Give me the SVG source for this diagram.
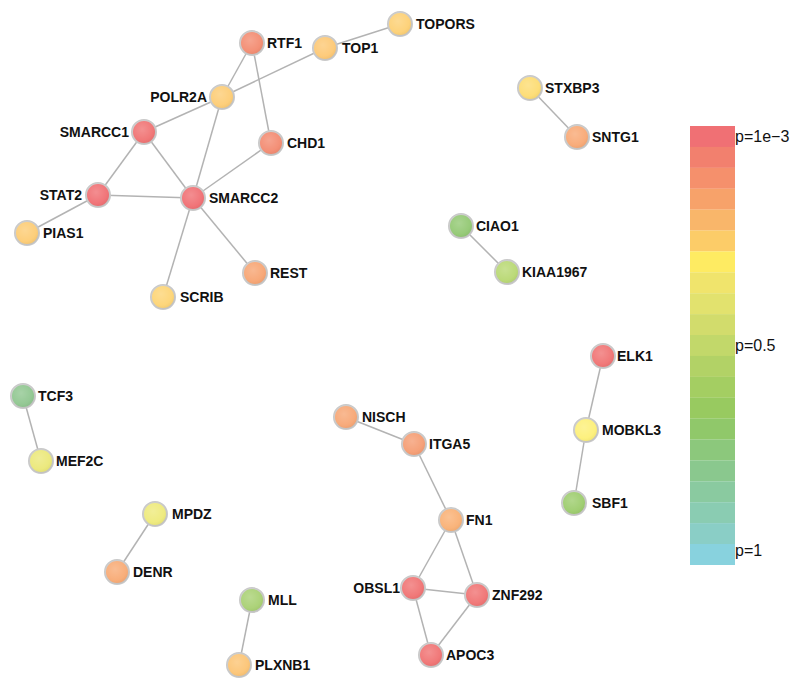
<svg xmlns="http://www.w3.org/2000/svg" width="800" height="690" viewBox="0 0 800 690">
<style>
.n{stroke:#c9c9c9;stroke-width:2}
.h{fill:url(#shine);stroke:none}
.t{font-family:"Liberation Sans",Arial,sans-serif;font-weight:bold;font-size:14px;fill:#111}
.e{stroke:#b3b3b3;stroke-width:1.5;fill:none}
.lg{font-family:"Liberation Sans",Arial,sans-serif;font-size:16px;fill:#111}
</style>
<defs>
<radialGradient id="shine" cx="0.42" cy="0.38" r="0.65">
<stop offset="0" stop-color="#fff" stop-opacity="0.22"/>
<stop offset="0.7" stop-color="#fff" stop-opacity="0.05"/>
<stop offset="1" stop-color="#000" stop-opacity="0.05"/>
</radialGradient>
</defs>
<rect width="800" height="690" fill="#fff"/>
<g id="connectors">
<line class="e" x1="252" y1="43" x2="222" y2="97"/>
<line class="e" x1="252" y1="43" x2="271" y2="143"/>
<line class="e" x1="325" y1="48" x2="222" y2="97"/>
<line class="e" x1="325" y1="48" x2="400" y2="24"/>
<line class="e" x1="222" y1="97" x2="144" y2="132"/>
<line class="e" x1="222" y1="97" x2="193" y2="198"/>
<line class="e" x1="144" y1="132" x2="98" y2="195"/>
<line class="e" x1="144" y1="132" x2="193" y2="198"/>
<line class="e" x1="98" y1="195" x2="193" y2="198"/>
<line class="e" x1="98" y1="195" x2="27" y2="233"/>
<line class="e" x1="271" y1="143" x2="193" y2="198"/>
<line class="e" x1="193" y1="198" x2="255" y2="273"/>
<line class="e" x1="193" y1="198" x2="163" y2="297"/>
<line class="e" x1="530" y1="88" x2="577" y2="137"/>
<line class="e" x1="461" y1="226" x2="507" y2="272"/>
<line class="e" x1="23" y1="396" x2="41" y2="461"/>
<line class="e" x1="155" y1="514" x2="117" y2="572"/>
<line class="e" x1="252" y1="600" x2="239" y2="665"/>
<line class="e" x1="346" y1="417" x2="414" y2="444"/>
<line class="e" x1="414" y1="444" x2="451" y2="520"/>
<line class="e" x1="451" y1="520" x2="413" y2="588"/>
<line class="e" x1="451" y1="520" x2="477" y2="595"/>
<line class="e" x1="413" y1="588" x2="477" y2="595"/>
<line class="e" x1="413" y1="588" x2="431" y2="655"/>
<line class="e" x1="477" y1="595" x2="431" y2="655"/>
<line class="e" x1="603" y1="356" x2="586" y2="430"/>
<line class="e" x1="586" y1="430" x2="574" y2="503"/>
</g>
<g id="RTF1"><circle class="n" cx="252" cy="43" r="12" fill="#f38b70"/><circle class="h" cx="252" cy="43" r="12"/><text class="t" x="267" y="48">RTF1</text></g>
<g id="TOPORS"><circle class="n" cx="400" cy="24" r="12" fill="#fdd074"/><circle class="h" cx="400" cy="24" r="12"/><text class="t" x="416" y="29">TOPORS</text></g>
<g id="TOP1"><circle class="n" cx="325" cy="48" r="12" fill="#fdc874"/><circle class="h" cx="325" cy="48" r="12"/><text class="t" x="342" y="53">TOP1</text></g>
<g id="POLR2A"><circle class="n" cx="222" cy="97" r="12" fill="#fdcc74"/><circle class="h" cx="222" cy="97" r="12"/><text class="t" x="207" y="102" text-anchor="end">POLR2A</text></g>
<g id="SMARCC1"><circle class="n" cx="144" cy="132" r="12" fill="#f07272"/><circle class="h" cx="144" cy="132" r="12"/><text class="t" x="129" y="137" text-anchor="end">SMARCC1</text></g>
<g id="CHD1"><circle class="n" cx="271" cy="143" r="12" fill="#f38a70"/><circle class="h" cx="271" cy="143" r="12"/><text class="t" x="287" y="148">CHD1</text></g>
<g id="STAT2"><circle class="n" cx="98" cy="195" r="12" fill="#f06e72"/><circle class="h" cx="98" cy="195" r="12"/><text class="t" x="82" y="200" text-anchor="end">STAT2</text></g>
<g id="SMARCC2"><circle class="n" cx="193" cy="198" r="12" fill="#f06e72"/><circle class="h" cx="193" cy="198" r="12"/><text class="t" x="209" y="203">SMARCC2</text></g>
<g id="PIAS1"><circle class="n" cx="27" cy="233" r="12" fill="#fdcc74"/><circle class="h" cx="27" cy="233" r="12"/><text class="t" x="43" y="238">PIAS1</text></g>
<g id="REST"><circle class="n" cx="255" cy="273" r="12" fill="#f7a472"/><circle class="h" cx="255" cy="273" r="12"/><text class="t" x="270" y="278">REST</text></g>
<g id="SCRIB"><circle class="n" cx="163" cy="297" r="12" fill="#fdd474"/><circle class="h" cx="163" cy="297" r="12"/><text class="t" x="180" y="302">SCRIB</text></g>
<g id="STXBP3"><circle class="n" cx="530" cy="88" r="12" fill="#fddc72"/><circle class="h" cx="530" cy="88" r="12"/><text class="t" x="545" y="93">STXBP3</text></g>
<g id="SNTG1"><circle class="n" cx="577" cy="137" r="12" fill="#f8a874"/><circle class="h" cx="577" cy="137" r="12"/><text class="t" x="592" y="142">SNTG1</text></g>
<g id="CIAO1"><circle class="n" cx="461" cy="226" r="12" fill="#92c872"/><circle class="h" cx="461" cy="226" r="12"/><text class="t" x="476" y="231">CIAO1</text></g>
<g id="KIAA1967"><circle class="n" cx="507" cy="272" r="12" fill="#b8d872"/><circle class="h" cx="507" cy="272" r="12"/><text class="t" x="522" y="277">KIAA1967</text></g>
<g id="TCF3"><circle class="n" cx="23" cy="396" r="12" fill="#8fc68f"/><circle class="h" cx="23" cy="396" r="12"/><text class="t" x="38" y="401">TCF3</text></g>
<g id="MEF2C"><circle class="n" cx="41" cy="461" r="12" fill="#ebe878"/><circle class="h" cx="41" cy="461" r="12"/><text class="t" x="56" y="466">MEF2C</text></g>
<g id="MPDZ"><circle class="n" cx="155" cy="514" r="12" fill="#eeea7a"/><circle class="h" cx="155" cy="514" r="12"/><text class="t" x="172" y="519">MPDZ</text></g>
<g id="DENR"><circle class="n" cx="117" cy="572" r="12" fill="#f8aa74"/><circle class="h" cx="117" cy="572" r="12"/><text class="t" x="133" y="577">DENR</text></g>
<g id="MLL"><circle class="n" cx="252" cy="600" r="12" fill="#a8d072"/><circle class="h" cx="252" cy="600" r="12"/><text class="t" x="268" y="605">MLL</text></g>
<g id="PLXNB1"><circle class="n" cx="239" cy="665" r="12" fill="#fcc474"/><circle class="h" cx="239" cy="665" r="12"/><text class="t" x="255" y="670">PLXNB1</text></g>
<g id="NISCH"><circle class="n" cx="346" cy="417" r="12" fill="#f7a674"/><circle class="h" cx="346" cy="417" r="12"/><text class="t" x="362" y="422">NISCH</text></g>
<g id="ITGA5"><circle class="n" cx="414" cy="444" r="12" fill="#f59c72"/><circle class="h" cx="414" cy="444" r="12"/><text class="t" x="429" y="449">ITGA5</text></g>
<g id="FN1"><circle class="n" cx="451" cy="520" r="12" fill="#f9b074"/><circle class="h" cx="451" cy="520" r="12"/><text class="t" x="466" y="525">FN1</text></g>
<g id="OBSL1"><circle class="n" cx="413" cy="588" r="12" fill="#f07272"/><circle class="h" cx="413" cy="588" r="12"/><text class="t" x="400" y="593" text-anchor="end">OBSL1</text></g>
<g id="ZNF292"><circle class="n" cx="477" cy="595" r="12" fill="#f07272"/><circle class="h" cx="477" cy="595" r="12"/><text class="t" x="492" y="600">ZNF292</text></g>
<g id="APOC3"><circle class="n" cx="431" cy="655" r="12" fill="#f07272"/><circle class="h" cx="431" cy="655" r="12"/><text class="t" x="446" y="660">APOC3</text></g>
<g id="ELK1"><circle class="n" cx="603" cy="356" r="12" fill="#f07272"/><circle class="h" cx="603" cy="356" r="12"/><text class="t" x="617" y="361">ELK1</text></g>
<g id="MOBKL3"><circle class="n" cx="586" cy="430" r="12" fill="#fdf078"/><circle class="h" cx="586" cy="430" r="12"/><text class="t" x="602" y="435">MOBKL3</text></g>
<g id="SBF1"><circle class="n" cx="574" cy="503" r="12" fill="#9ccc6c"/><circle class="h" cx="574" cy="503" r="12"/><text class="t" x="592" y="508">SBF1</text></g>
<g id="legend">
<rect x="690" y="126" width="45" height="21" fill="#f07074"/>
<rect x="690" y="146.9" width="45" height="21" fill="#f2806e"/>
<rect x="690" y="167.8" width="45" height="21" fill="#f5906c"/>
<rect x="690" y="188.7" width="45" height="21" fill="#f7a26a"/>
<rect x="690" y="209.6" width="45" height="21" fill="#f9b66a"/>
<rect x="690" y="230.5" width="45" height="21" fill="#fccc68"/>
<rect x="690" y="251.4" width="45" height="21" fill="#feeb62"/>
<rect x="690" y="272.3" width="45" height="21" fill="#f0e46c"/>
<rect x="690" y="293.2" width="45" height="21" fill="#e2e26e"/>
<rect x="690" y="314.1" width="45" height="21" fill="#d2dc6c"/>
<rect x="690" y="335" width="45" height="21" fill="#c2d86a"/>
<rect x="690" y="355.9" width="45" height="21" fill="#b2d266"/>
<rect x="690" y="376.8" width="45" height="21" fill="#a4ce62"/>
<rect x="690" y="397.7" width="45" height="21" fill="#98ca60"/>
<rect x="690" y="418.6" width="45" height="21" fill="#90c86a"/>
<rect x="690" y="439.5" width="45" height="21" fill="#8cc87c"/>
<rect x="690" y="460.4" width="45" height="21" fill="#8ac88e"/>
<rect x="690" y="481.3" width="45" height="21" fill="#8acaa0"/>
<rect x="690" y="502.2" width="45" height="21" fill="#8accb2"/>
<rect x="690" y="523.1" width="45" height="21" fill="#8acec6"/>
<rect x="690" y="544" width="45" height="21" fill="#88d2de"/>
<text class="lg" x="735" y="142">p=1e−3</text>
<text class="lg" x="735" y="351">p=0.5</text>
<text class="lg" x="735" y="556">p=1</text>
</g>
</svg>
